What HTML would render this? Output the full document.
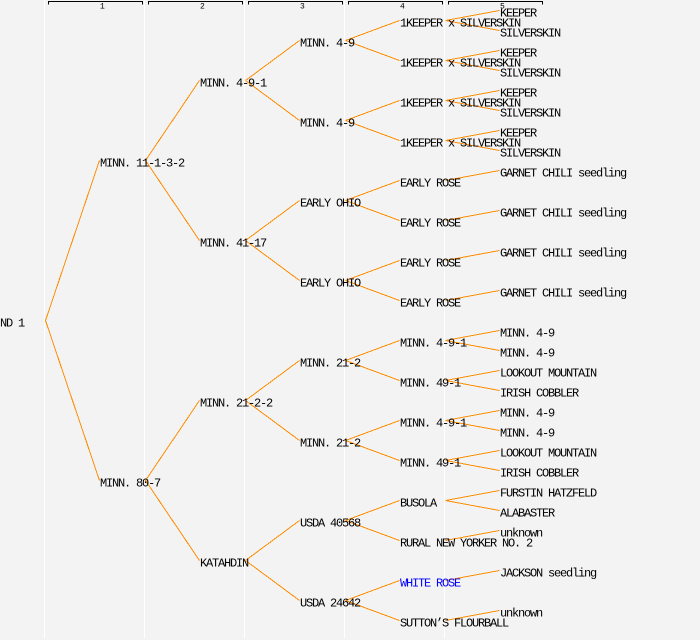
<!DOCTYPE html>
<html>
<head>
<meta charset="utf-8">
<style>
html,body{margin:0;padding:0;background:#f3f3f3;}
svg{display:block;}
text{font-family:"Liberation Mono","DejaVu Sans Mono",monospace;font-size:12px;letter-spacing:-1.2px;fill:#000;}
text.h{font-size:8px;letter-spacing:0;}
</style>
</head>
<body>
<svg width="700" height="640" viewBox="0 0 700 640" xmlns="http://www.w3.org/2000/svg">
<rect x="0" y="0" width="700" height="640" fill="#f3f3f3"/>
<g fill="#ffffff" shape-rendering="crispEdges">
<rect x="44" y="0" width="1" height="638"/>
<rect x="144" y="0" width="1" height="638"/>
<rect x="244" y="0" width="1" height="638"/>
<rect x="344" y="0" width="1" height="638"/>
<rect x="444" y="0" width="1" height="638"/>
</g>
<g stroke="#000" stroke-width="1" fill="none" shape-rendering="crispEdges">
<path d="M48.5 4.5V1.5H142.5V4.5"/>
<path d="M148.5 4.5V1.5H242.5V4.5"/>
<path d="M248.5 4.5V1.5H342.5V4.5"/>
<path d="M348.5 4.5V1.5H442.5V4.5"/>
<path d="M448.5 4.5V1.5H542.5V4.5"/>
</g>
<text class="h" x="100" y="8.5">1</text>
<text class="h" x="200" y="8.5">2</text>
<text class="h" x="300" y="8.5">3</text>
<text class="h" x="400" y="8.5">4</text>
<text class="h" x="500" y="8.5">5</text>

<g stroke="#ff8c00" stroke-width="1" fill="none" shape-rendering="crispEdges">
<path d="M45.5 320.5L99.5 160.5M45.5 320.5L99.5 480.5"/>
<path d="M145.5 160.5L199.5 80.5M145.5 160.5L199.5 240.5M145.5 480.5L199.5 400.5M145.5 480.5L199.5 560.5"/>
<path d="M245.5 80.5L299.5 40.5M245.5 80.5L299.5 120.5M245.5 240.5L299.5 200.5M245.5 240.5L299.5 280.5M245.5 400.5L299.5 360.5M245.5 400.5L299.5 440.5M245.5 560.5L299.5 520.5M245.5 560.5L299.5 600.5"/>
<path d="M345.5 40.5L399.5 20.5M345.5 40.5L399.5 60.5M345.5 120.5L399.5 100.5M345.5 120.5L399.5 140.5M345.5 200.5L399.5 180.5M345.5 200.5L399.5 220.5M345.5 280.5L399.5 260.5M345.5 280.5L399.5 300.5M345.5 360.5L399.5 340.5M345.5 360.5L399.5 380.5M345.5 440.5L399.5 420.5M345.5 440.5L399.5 460.5M345.5 520.5L399.5 500.5M345.5 520.5L399.5 540.5M345.5 600.5L399.5 580.5M345.5 600.5L399.5 620.5"/>
<path d="M445.5 20.5L499.5 10.5M445.5 20.5L499.5 30.5M445.5 60.5L499.5 50.5M445.5 60.5L499.5 70.5M445.5 100.5L499.5 90.5M445.5 100.5L499.5 110.5M445.5 140.5L499.5 130.5M445.5 140.5L499.5 150.5"/>
<path d="M445.5 180.5L499.5 170.5M445.5 220.5L499.5 210.5M445.5 260.5L499.5 250.5M445.5 300.5L499.5 290.5"/>
<path d="M445.5 340.5L499.5 330.5M445.5 340.5L499.5 350.5M445.5 380.5L499.5 370.5M445.5 380.5L499.5 390.5M445.5 420.5L499.5 410.5M445.5 420.5L499.5 430.5M445.5 460.5L499.5 450.5M445.5 460.5L499.5 470.5"/>
<path d="M445.5 500.5L499.5 490.5M445.5 500.5L499.5 510.5M445.5 540.5L499.5 530.5M445.5 580.5L499.5 570.5M445.5 620.5L499.5 610.5"/>
</g>

<text x="0" y="326.5">ND 1</text>
<text x="100" y="166.5">MINN. 11-1-3-2</text>
<text x="100" y="486.5">MINN. 80-7</text>
<text x="200" y="86.5">MINN. 4-9-1</text>
<text x="200" y="246.5">MINN. 41-17</text>
<text x="200" y="406.5">MINN. 21-2-2</text>
<text x="200" y="566.5">KATAHDIN</text>
<text x="300" y="46.5">MINN. 4-9</text>
<text x="300" y="126.5">MINN. 4-9</text>
<text x="300" y="206.5">EARLY OHIO</text>
<text x="300" y="286.5">EARLY OHIO</text>
<text x="300" y="366.5">MINN. 21-2</text>
<text x="300" y="446.5">MINN. 21-2</text>
<text x="300" y="526.5">USDA 40568</text>
<text x="300" y="606.5">USDA 24642</text>
<text x="400" y="26.5">1KEEPER x SILVERSKIN</text>
<text x="400" y="66.5">1KEEPER x SILVERSKIN</text>
<text x="400" y="106.5">1KEEPER x SILVERSKIN</text>
<text x="400" y="146.5">1KEEPER x SILVERSKIN</text>
<text x="400" y="186.5">EARLY ROSE</text>
<text x="400" y="226.5">EARLY ROSE</text>
<text x="400" y="266.5">EARLY ROSE</text>
<text x="400" y="306.5">EARLY ROSE</text>
<text x="400" y="346.5">MINN. 4-9-1</text>
<text x="400" y="386.5">MINN. 49-1</text>
<text x="400" y="426.5">MINN. 4-9-1</text>
<text x="400" y="466.5">MINN. 49-1</text>
<text x="400" y="506.5">BUSOLA</text>
<text x="400" y="546.5">RURAL NEW YORKER NO. 2</text>
<text x="400" y="586.5" style="fill:#0000ff">WHITE ROSE</text>
<text x="400" y="626.5">SUTTON’S FLOURBALL</text>
<text x="500" y="16.5">KEEPER</text>
<text x="500" y="36.5">SILVERSKIN</text>
<text x="500" y="56.5">KEEPER</text>
<text x="500" y="76.5">SILVERSKIN</text>
<text x="500" y="96.5">KEEPER</text>
<text x="500" y="116.5">SILVERSKIN</text>
<text x="500" y="136.5">KEEPER</text>
<text x="500" y="156.5">SILVERSKIN</text>
<text x="500" y="176.5">GARNET CHILI seedling</text>
<text x="500" y="216.5">GARNET CHILI seedling</text>
<text x="500" y="256.5">GARNET CHILI seedling</text>
<text x="500" y="296.5">GARNET CHILI seedling</text>
<text x="500" y="336.5">MINN. 4-9</text>
<text x="500" y="356.5">MINN. 4-9</text>
<text x="500" y="376.5">LOOKOUT MOUNTAIN</text>
<text x="500" y="396.5">IRISH COBBLER</text>
<text x="500" y="416.5">MINN. 4-9</text>
<text x="500" y="436.5">MINN. 4-9</text>
<text x="500" y="456.5">LOOKOUT MOUNTAIN</text>
<text x="500" y="476.5">IRISH COBBLER</text>
<text x="500" y="496.5">FURSTIN HATZFELD</text>
<text x="500" y="516.5">ALABASTER</text>
<text x="500" y="536.5">unknown</text>
<text x="500" y="576.5">JACKSON seedling</text>
<text x="500" y="616.5">unknown</text>
</svg>
</body>
</html>
